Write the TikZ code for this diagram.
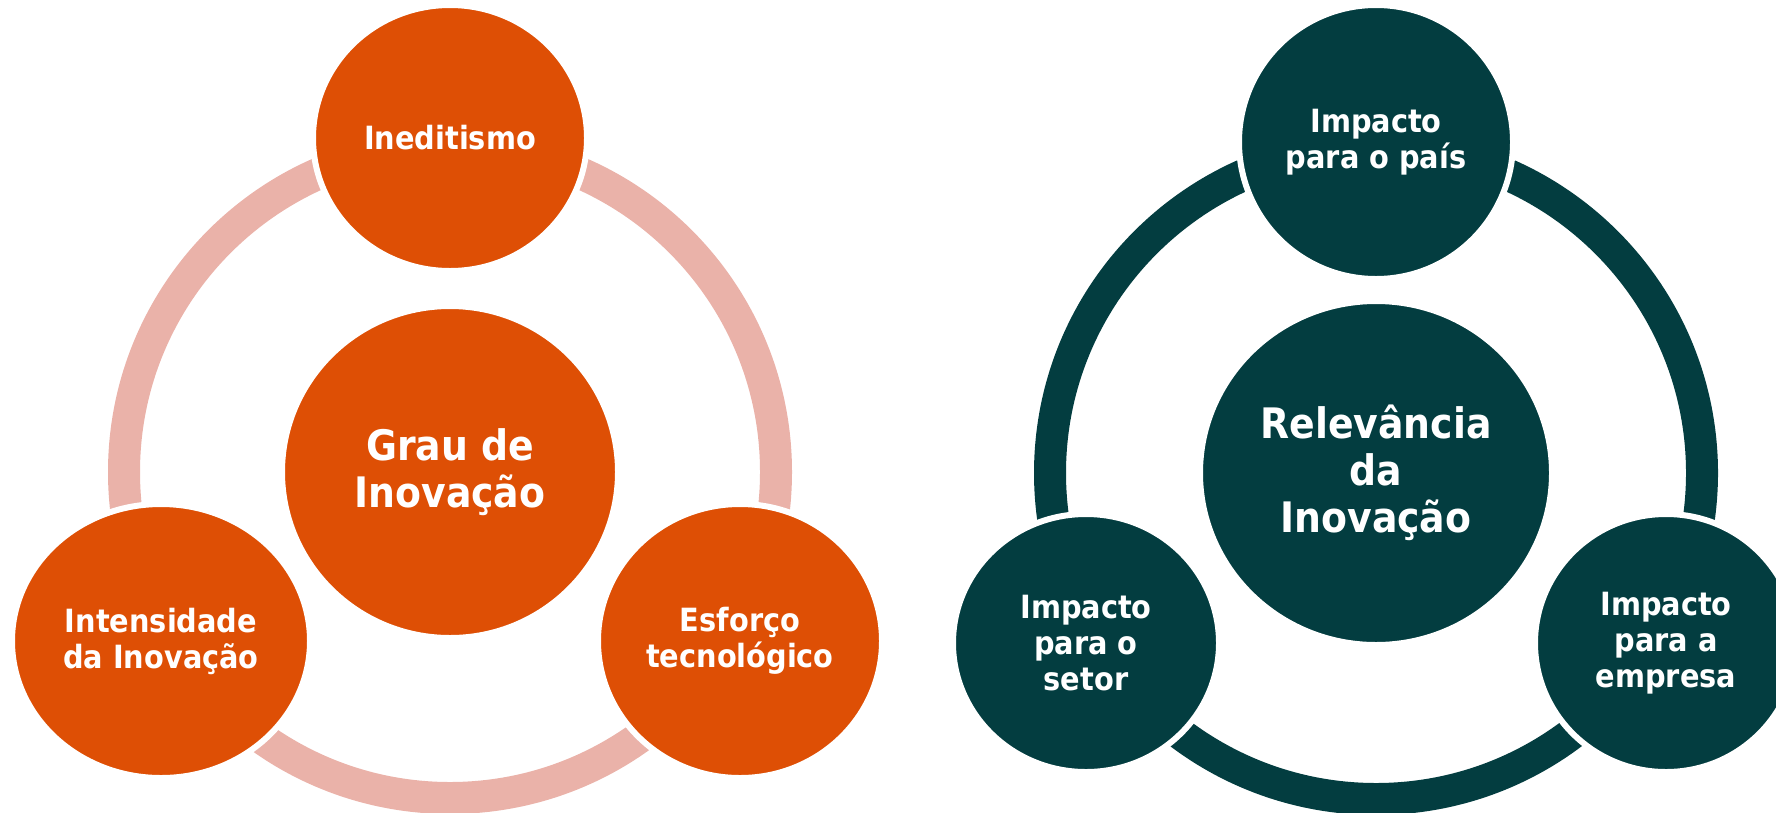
\documentclass[tikz,border=0pt]{standalone}
\usepackage{fontspec}
\setmainfont{DejaVu Sans Condensed}
\usepackage{xcolor}
\usepackage{tikz}
\usetikzlibrary{shapes.geometric}

\definecolor{laranja}{HTML}{DE4F05}
\definecolor{rosa}{HTML}{EAB2A9}
\definecolor{petroleo}{HTML}{033D40}

\begin{document}
\begin{tikzpicture}[x=1pt, y=-1pt, font=\bfseries]
	\tikzstyle{bola} = [ellipse, draw=white, line width=6pt, text=white, align=center, inner sep=0pt]
	\tikzstyle{anel} = [line width=32pt]
	\tikzstyle{menor} = [font=\fontsize{32}{36}\selectfont\bfseries]
	\tikzstyle{maior} = [font=\fontsize{42}{47}\selectfont\bfseries]
	\useasboundingbox (0, 0) rectangle (1776, 812);
	
	% grau de inovacao
	\draw[anel, rosa] (450, 472) circle (326);
	\node[bola, fill=laranja, maior, minimum width=336pt, minimum height=332pt]	at (450, 472)	(grau)	{Grau de\\Inovação};
	\node[bola, fill=laranja, menor, minimum width=274pt, minimum height=266pt]	at (450, 138)	(ined)	{Ineditismo};
	\node[bola, fill=laranja, menor, minimum width=298pt, minimum height=274pt]	at (161, 641)	(inten)	{Intensidade\\da Inovação};
	\node[bola, fill=laranja, menor, minimum width=284pt, minimum height=274pt]	at (740, 641)	(esforco)	{Esforço\\tecnológico};
	
	% relevancia da inovacao
	\draw[anel, petroleo] (1376, 473) circle (326);
	\node[bola, fill=petroleo, maior, minimum width=352pt, minimum height=344pt]	at (1376, 473)	(relev)	{Relevância\\da\\Inovação};
	\node[bola, fill=petroleo, menor, minimum width=274pt, minimum height=274pt]	at (1376, 142)	(pais)	{Impacto\\para o país};
	\node[bola, fill=petroleo, menor, minimum width=266pt, minimum height=258pt]	at (1086, 643)	(setor)	{Impacto\\para o\\setor};
	\node[bola, fill=petroleo, menor, minimum width=262pt, minimum height=258pt]	at (1666, 643)	(empresa)	{Impacto\\para a\\empresa};
	
\end{tikzpicture}
\end{document}
